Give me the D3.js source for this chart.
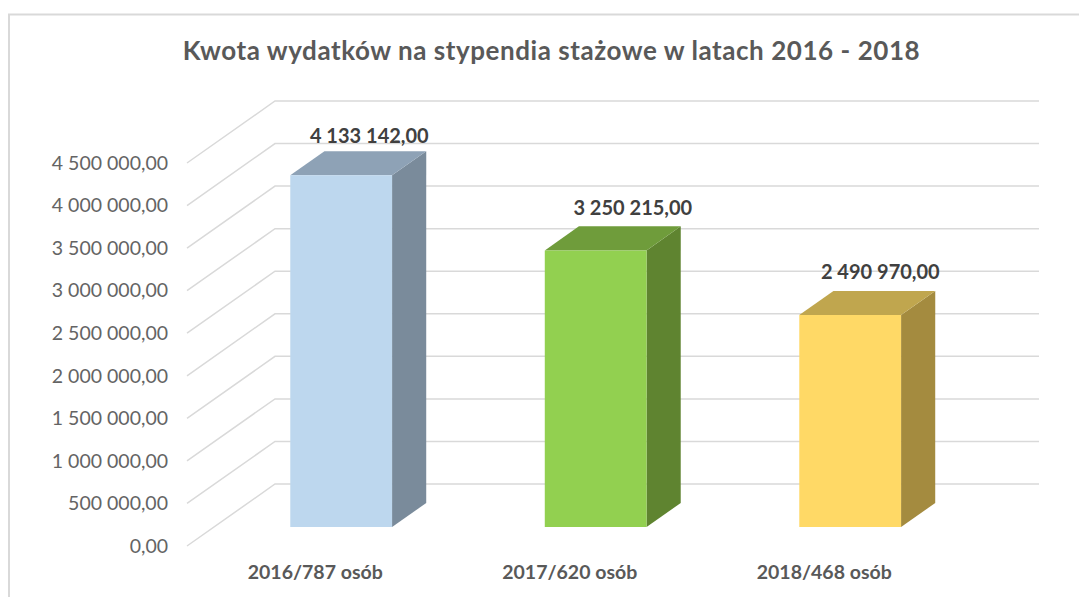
<!DOCTYPE html>
<html>
<head>
<meta charset="utf-8">
<script src="https://d3js.org/d3.v7.min.js"></script>
<style>
  html, body { margin: 0; background: #fff; }
  text { font-family: Lato, "Open Sans", sans-serif; }
</style>
</head>
<body>
<div id="chart"></div>
<script>
const width = 1079;
const height = 597;

const titleText = "Kwota wydatków na stypendia stażowe w latach 2016 - 2018";
const categories = ["2016/787 osób", "2017/620 osób", "2018/468 osób"];
const values = [4133142, 3250215, 2490970];
const valueLabels = ["4 133 142,00", "3 250 215,00", "2 490 970,00"];
const yTicks = [0, 500000, 1000000, 1500000, 2000000, 2500000, 3000000, 3500000, 4000000, 4500000];
const frontColours = ["#bdd7ee", "#92d050", "#ffd966"];
const topColours = ["#8ea2b6", "#6f9c3b", "#c0a64e"];
const sideColours = ["#7a8b9b", "#5f8430", "#a48b3f"];

// Floor of the 3D box: the walls sit this far right and up from the front plane.
const depthX = 88;
const depthY = 62;
const barNear = 0.306;
const barFar = 0.694;

// The data labels were moved by hand in the original chart, they are not centred exactly.
const labelNudgeX = [-6, 3, -4];
const labelNudgeY = [0, -3, -4];

const x = d3.scaleBand().domain(categories).range([187, 950.5]).paddingInner(0.6).paddingOuter(0.3);
const y = d3.scaleLinear().domain([0, 4500000]).range([546, 163]);

// Project a point of the front plane back into the box (d: 0 front, 1 back wall).
const project = (px, value, d) => [px + d * depthX, y(value) - d * depthY];

const svg = d3.select("#chart").append("svg")
    .attr("width", width)
    .attr("height", height)
    .style("display", "block");

// Chart border, only the left and top edges are in the frame
svg.append("path")
    .attr("d", d3.line()([[9, height], [9, 14.5], [width, 14.5]]))
    .attr("fill", "none")
    .attr("stroke", "#d9d9d9")
    .attr("stroke-width", 2);

svg.append("text")
    .attr("x", 551.5)
    .attr("y", 60)
    .attr("text-anchor", "middle")
    .attr("font-size", 26)
    .attr("font-weight", 700)
    .attr("letter-spacing", 0.55)
    .attr("fill", "#595959")
    .text(titleText);

// Gridlines: diagonal along the side wall, then flat along the back wall
const grid = svg.append("g");
grid.selectAll("path")
  .data(yTicks)
  .enter().append("path")
    .attr("d", d => d3.line()([project(187, d, 0), project(187, d, 1), [1039, y(d) - depthY]]))
    .attr("fill", "none")
    .attr("stroke", "#d9d9d9")
    .attr("stroke-width", 1.5);

// Value axis
const yAxis = svg.append("g")
    .attr("transform", "translate(178,0)")
    .call(d3.axisLeft(y)
      .tickValues(yTicks)
      .tickSize(0)
      .tickPadding(10)
      .tickFormat(d => d3.format(",.2f")(d).replace(/,/g, " ").replace(".", ",")));
yAxis.select(".domain").remove();
yAxis.selectAll("text")
    .attr("font-size", 19.5)
    .attr("font-family", "Lato")
    .attr("fill", "#646464");

// Category axis, drawn on the front plane under the bars
const xAxis = svg.append("g")
    .attr("transform", "translate(1,565)")
    .call(d3.axisBottom(x).tickSize(0).tickPadding(0));
xAxis.select(".domain").remove();
xAxis.selectAll("text")
    .attr("font-size", 19.5)
    .attr("font-family", "Lato")
    .attr("font-weight", 700)
    .attr("fill", "#595959");

// Bars: front, top and side faces
const bars = svg.append("g").selectAll("g")
  .data(categories.map((c, i) => ({ c: c, v: values[i], i: i })))
  .enter().append("g");

const face = pts => d3.line()(pts) + "Z";

bars.append("path")
    .attr("fill", d => sideColours[d.i])
    .attr("d", d => {
      const r = x(d.c) + x.bandwidth();
      return face([project(r, d.v, barNear), project(r, d.v, barFar), project(r, 0, barFar), project(r, 0, barNear)]);
    });

bars.append("path")
    .attr("fill", d => topColours[d.i])
    .attr("d", d => {
      const l = x(d.c);
      const r = l + x.bandwidth();
      return face([project(l, d.v, barNear), project(l, d.v, barFar), project(r, d.v, barFar), project(r, d.v, barNear)]);
    });

bars.append("path")
    .attr("fill", d => frontColours[d.i])
    .attr("d", d => {
      const l = x(d.c);
      const r = l + x.bandwidth();
      return face([project(l, d.v, barNear), project(r, d.v, barNear), project(r, 0, barNear), project(l, 0, barNear)]);
    });

// Data labels
bars.append("text")
    .attr("x", d => project(x(d.c) + x.bandwidth() / 2, d.v, barFar)[0] + labelNudgeX[d.i])
    .attr("y", d => project(0, d.v, barFar)[1] - 8 + labelNudgeY[d.i])
    .attr("text-anchor", "middle")
    .attr("font-size", 20)
    .attr("font-weight", 700)
    .attr("fill", "#404040")
    .text(d => valueLabels[d.i]);
</script>
</body>
</html>
